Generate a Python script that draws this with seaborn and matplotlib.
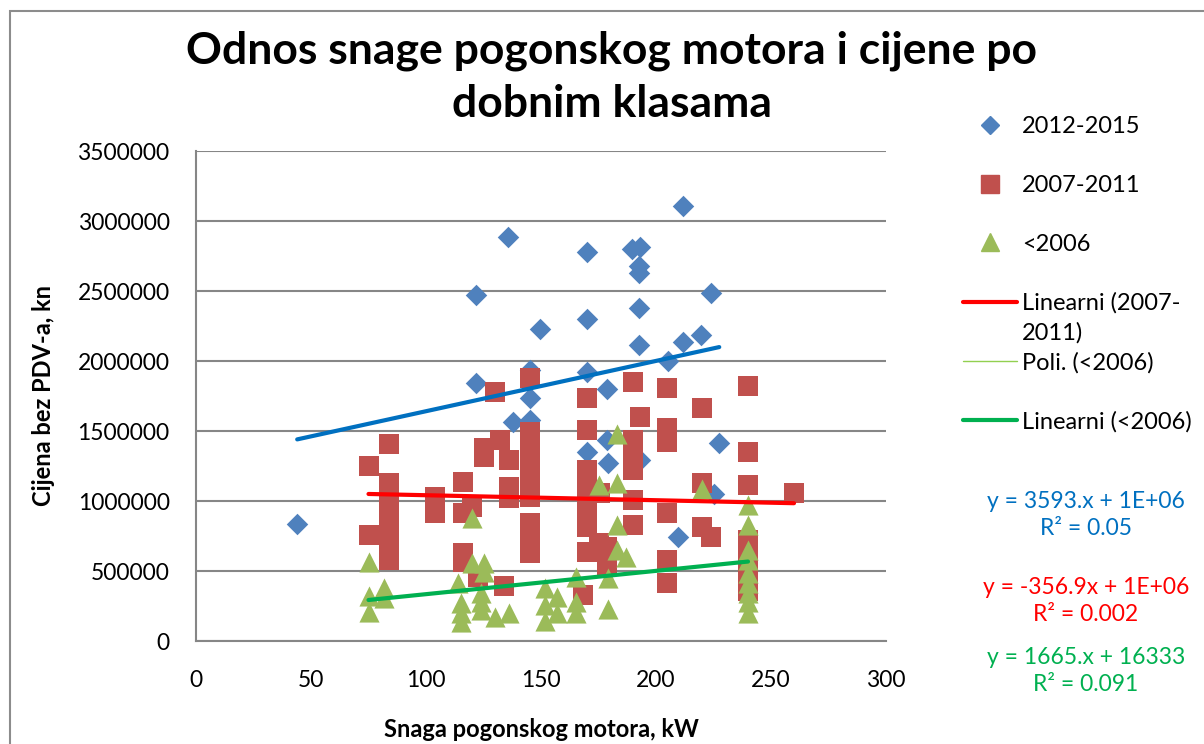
import numpy as np
import seaborn as sns
import matplotlib.pyplot as plt
import matplotlib.ticker as mticker
from matplotlib.lines import Line2D
from matplotlib.patches import Rectangle

# 2012-2015 (kW, kn)
blue_x = [44, 121.7, 121.7, 135.8, 137.7, 145, 145, 145, 149.5, 170, 170, 170, 170,
          178.7, 178.7, 179, 189.4, 193, 192.7, 192.7, 192.7, 192.7, 193, 205, 209.7,
          211.7, 211.8, 219.5, 224, 227.5, 225]
blue_y = [836000, 2473000, 1845000, 2888000, 1566000, 1936000, 1734000, 1579000, 2230000,
          2781000, 2298000, 1924000, 1352000, 1798000, 1436000, 1274000, 2798000, 2816000,
          2678000, 2631000, 2376000, 2112000, 1293000, 2000000, 745000, 3107000, 2136000,
          2186000, 2485000, 1412000, 1050000]

# 2007-2011
red_x = [75, 75,
         84, 84, 84, 84, 84, 84, 84,
         104, 104,
         116, 116, 116, 116,
         120, 122.7, 125, 125, 130, 132, 134,
         136, 136, 136,
         145, 145, 145, 145, 145, 145, 145, 145, 145, 145,
         168.4,
         170, 170, 170, 170, 170, 170, 170, 170, 170,
         175.7, 175, 178.6, 178.6,
         190, 190, 190, 190, 190, 190, 193,
         204.6, 204.6, 204.6, 204.6, 204.6, 204.6,
         220, 220, 220, 223.8,
         240, 240, 240, 240, 240, 240, 240, 240, 240,
         260]
red_y = [1252000, 757000,
         1407000, 1126000, 1007000, 888000, 793000, 650000, 579000,
         1031000, 912000,
         1138000, 912000, 626000, 566000,
         959000, 455000, 1376000, 1316000, 1781000, 1436000, 393000,
         1293000, 1102000, 1019000,
         1876000, 1495000, 1400000, 1300000, 1200000, 1100000, 1031000, 840000, 700000, 626000,
         329000,
         1734000, 1507000, 1221000, 1150000, 1055000, 960000, 888000, 817000, 638000,
         1055000, 698000, 674000, 543000,
         1852000, 1436000, 1364000, 1221000, 1007000, 829000, 1602000,
         1805000, 1519000, 1424000, 912000, 579000, 412000,
         1662000, 1126000, 817000, 745000,
         1821000, 1352000, 1114000, 721000, 650000, 579000, 507000, 436000, 360000,
         1055000]

# <2006
green_x = [75, 75, 75, 81.7, 81.7, 114, 115, 115, 115, 120, 120,
           124, 124, 124, 125, 125, 130, 136,
           151.7, 151.7, 151.7, 156.8, 156.8, 165, 165, 165,
           175, 179, 179, 183, 183, 183, 183, 187, 220,
           240, 240, 240, 240, 240, 240, 240, 240, 240]
green_y = [566000, 321000, 209000, 376000, 305000, 412000, 269000, 198000, 138000, 876000, 559000,
           340000, 281000, 221000, 559000, 495000, 174000, 198000,
           376000, 257000, 140000, 317000, 198000, 459000, 281000, 198000,
           1114000, 448000, 226000, 1478000, 1131000, 829000, 650000, 598000, 1087000,
           971000, 829000, 650000, 579000, 483000, 412000, 340000, 281000, 200000]

# trend lines (slope, intercept)
trend_slope = [3593, -356.9, 1665]
trend_intercept = [1282000, 1077000, 168000]
trend_eq = ["y = 3593.x + 1E+06\nR² = 0.05",
            "y = -356.9x + 1E+06\nR² = 0.002",
            "y = 1665.x + 16333\nR² = 0.091"]

C_BLUE, C_RED, C_GREEN = "#4F81BD", "#C0504D", "#9BBB59"
T_BLUE, T_RED, T_GREEN = "#0070C0", "#FF0000", "#00B050"
GRID = "#868686"

sns.set_theme(style="white")
plt.rcParams["font.family"] = ["Lato", "DejaVu Sans"]
plt.rcParams["text.color"] = "black"
plt.rcParams["axes.labelcolor"] = "black"
plt.rcParams["xtick.labelcolor"] = "black"
plt.rcParams["ytick.labelcolor"] = "black"

fig = plt.figure(figsize=(12.04, 7.44), dpi=100)
ax = fig.add_axes([196 / 1204, 1 - 641 / 744, 690 / 1204, 490 / 744])

sns.scatterplot(x=blue_x, y=blue_y, marker="D", color=C_BLUE, s=120, linewidth=0, ax=ax, zorder=3)
sns.scatterplot(x=red_x, y=red_y, marker="s", color=C_RED, s=200, linewidth=0, ax=ax, zorder=4)
sns.scatterplot(x=green_x, y=green_y, marker="^", color=C_GREEN, s=210, linewidth=0, ax=ax, zorder=5)

# linear trend lines over each series' x range
for xs, k, n, c in zip([blue_x, red_x, green_x], trend_slope, trend_intercept, [T_BLUE, T_RED, T_GREEN]):
    xr = np.array([min(xs), max(xs)])
    ax.plot(xr, k * xr + n, color=c, lw=3, solid_capstyle="round", zorder=6)

ax.set_xlim(0, 300)
ax.set_ylim(0, 3500000)
ax.set_xticks(range(0, 301, 50))
ax.set_yticks(range(0, 3500001, 500000))
ax.yaxis.set_major_formatter(mticker.StrMethodFormatter("{x:.0f}"))
ax.grid(axis="y", color=GRID, lw=1.5)
ax.set_axisbelow(True)
for s in ["top", "right"]:
    ax.spines[s].set_visible(False)
for s in ["left", "bottom"]:
    ax.spines[s].set_color(GRID)
    ax.spines[s].set_linewidth(1.5)
ax.tick_params(axis="y", direction="out", length=6, width=1.5, color=GRID, pad=13, labelsize=16.5)
ax.tick_params(axis="x", direction="out", length=5, width=1.5, color=GRID, pad=16, labelsize=16.5)

ax.set_xlabel("Snaga pogonskog motora, kW", fontsize=17, weight="bold")
ax.set_ylabel("Cijena bez PDV-a, kn", fontsize=17, weight="bold")
ax.xaxis.set_label_coords(0.5, -0.158)
ax.yaxis.set_label_coords(-0.205, 0.5)

fig.text(0.508, 1 - 77 / 744, "Odnos snage pogonskog motora i cijene po\ndobnim klasama",
         ha="center", va="center", fontsize=32, weight="bold", linespacing=1.4)

handles = [
    Line2D([], [], marker="D", color=C_BLUE, ls="none", markersize=9),
    Line2D([], [], marker="s", color=C_RED, ls="none", markersize=13),
    Line2D([], [], marker="^", color=C_GREEN, ls="none", markersize=13),
    Line2D([], [], color=T_RED, lw=3),
    Line2D([], [], color="#92D050", lw=1),
    Line2D([], [], color=T_GREEN, lw=3),
]
labels = ["2012-2015", "2007-2011", "<2006", "Linearni (2007-", "Poli. (<2006)", "Linearni (<2006)"]
fig.legend(handles, labels, loc="upper left", bbox_to_anchor=(963 / 1204, 1 - 116 / 744),
           frameon=False, fontsize=17, handlelength=2.3, handletextpad=0.2,
           labelspacing=1.6, borderpad=0, borderaxespad=0)
fig.text(1022 / 1204, 1 - 333 / 744, "2011)", va="center", fontsize=17)

for txt, c, yc in zip(trend_eq, [T_BLUE, T_RED, T_GREEN], [515, 601, 671]):
    fig.text(1086 / 1204, 1 - yc / 744, txt, ha="center", va="center", color=c,
             fontsize=16.5, linespacing=1.4)

fig.patches.append(Rectangle((10 / 1204, -0.1), 1.2, 1.1 - 11 / 744, transform=fig.transFigure,
                             fill=False, edgecolor="#8c8c8c", lw=1.5))

fig.savefig("out.png", dpi=100)
